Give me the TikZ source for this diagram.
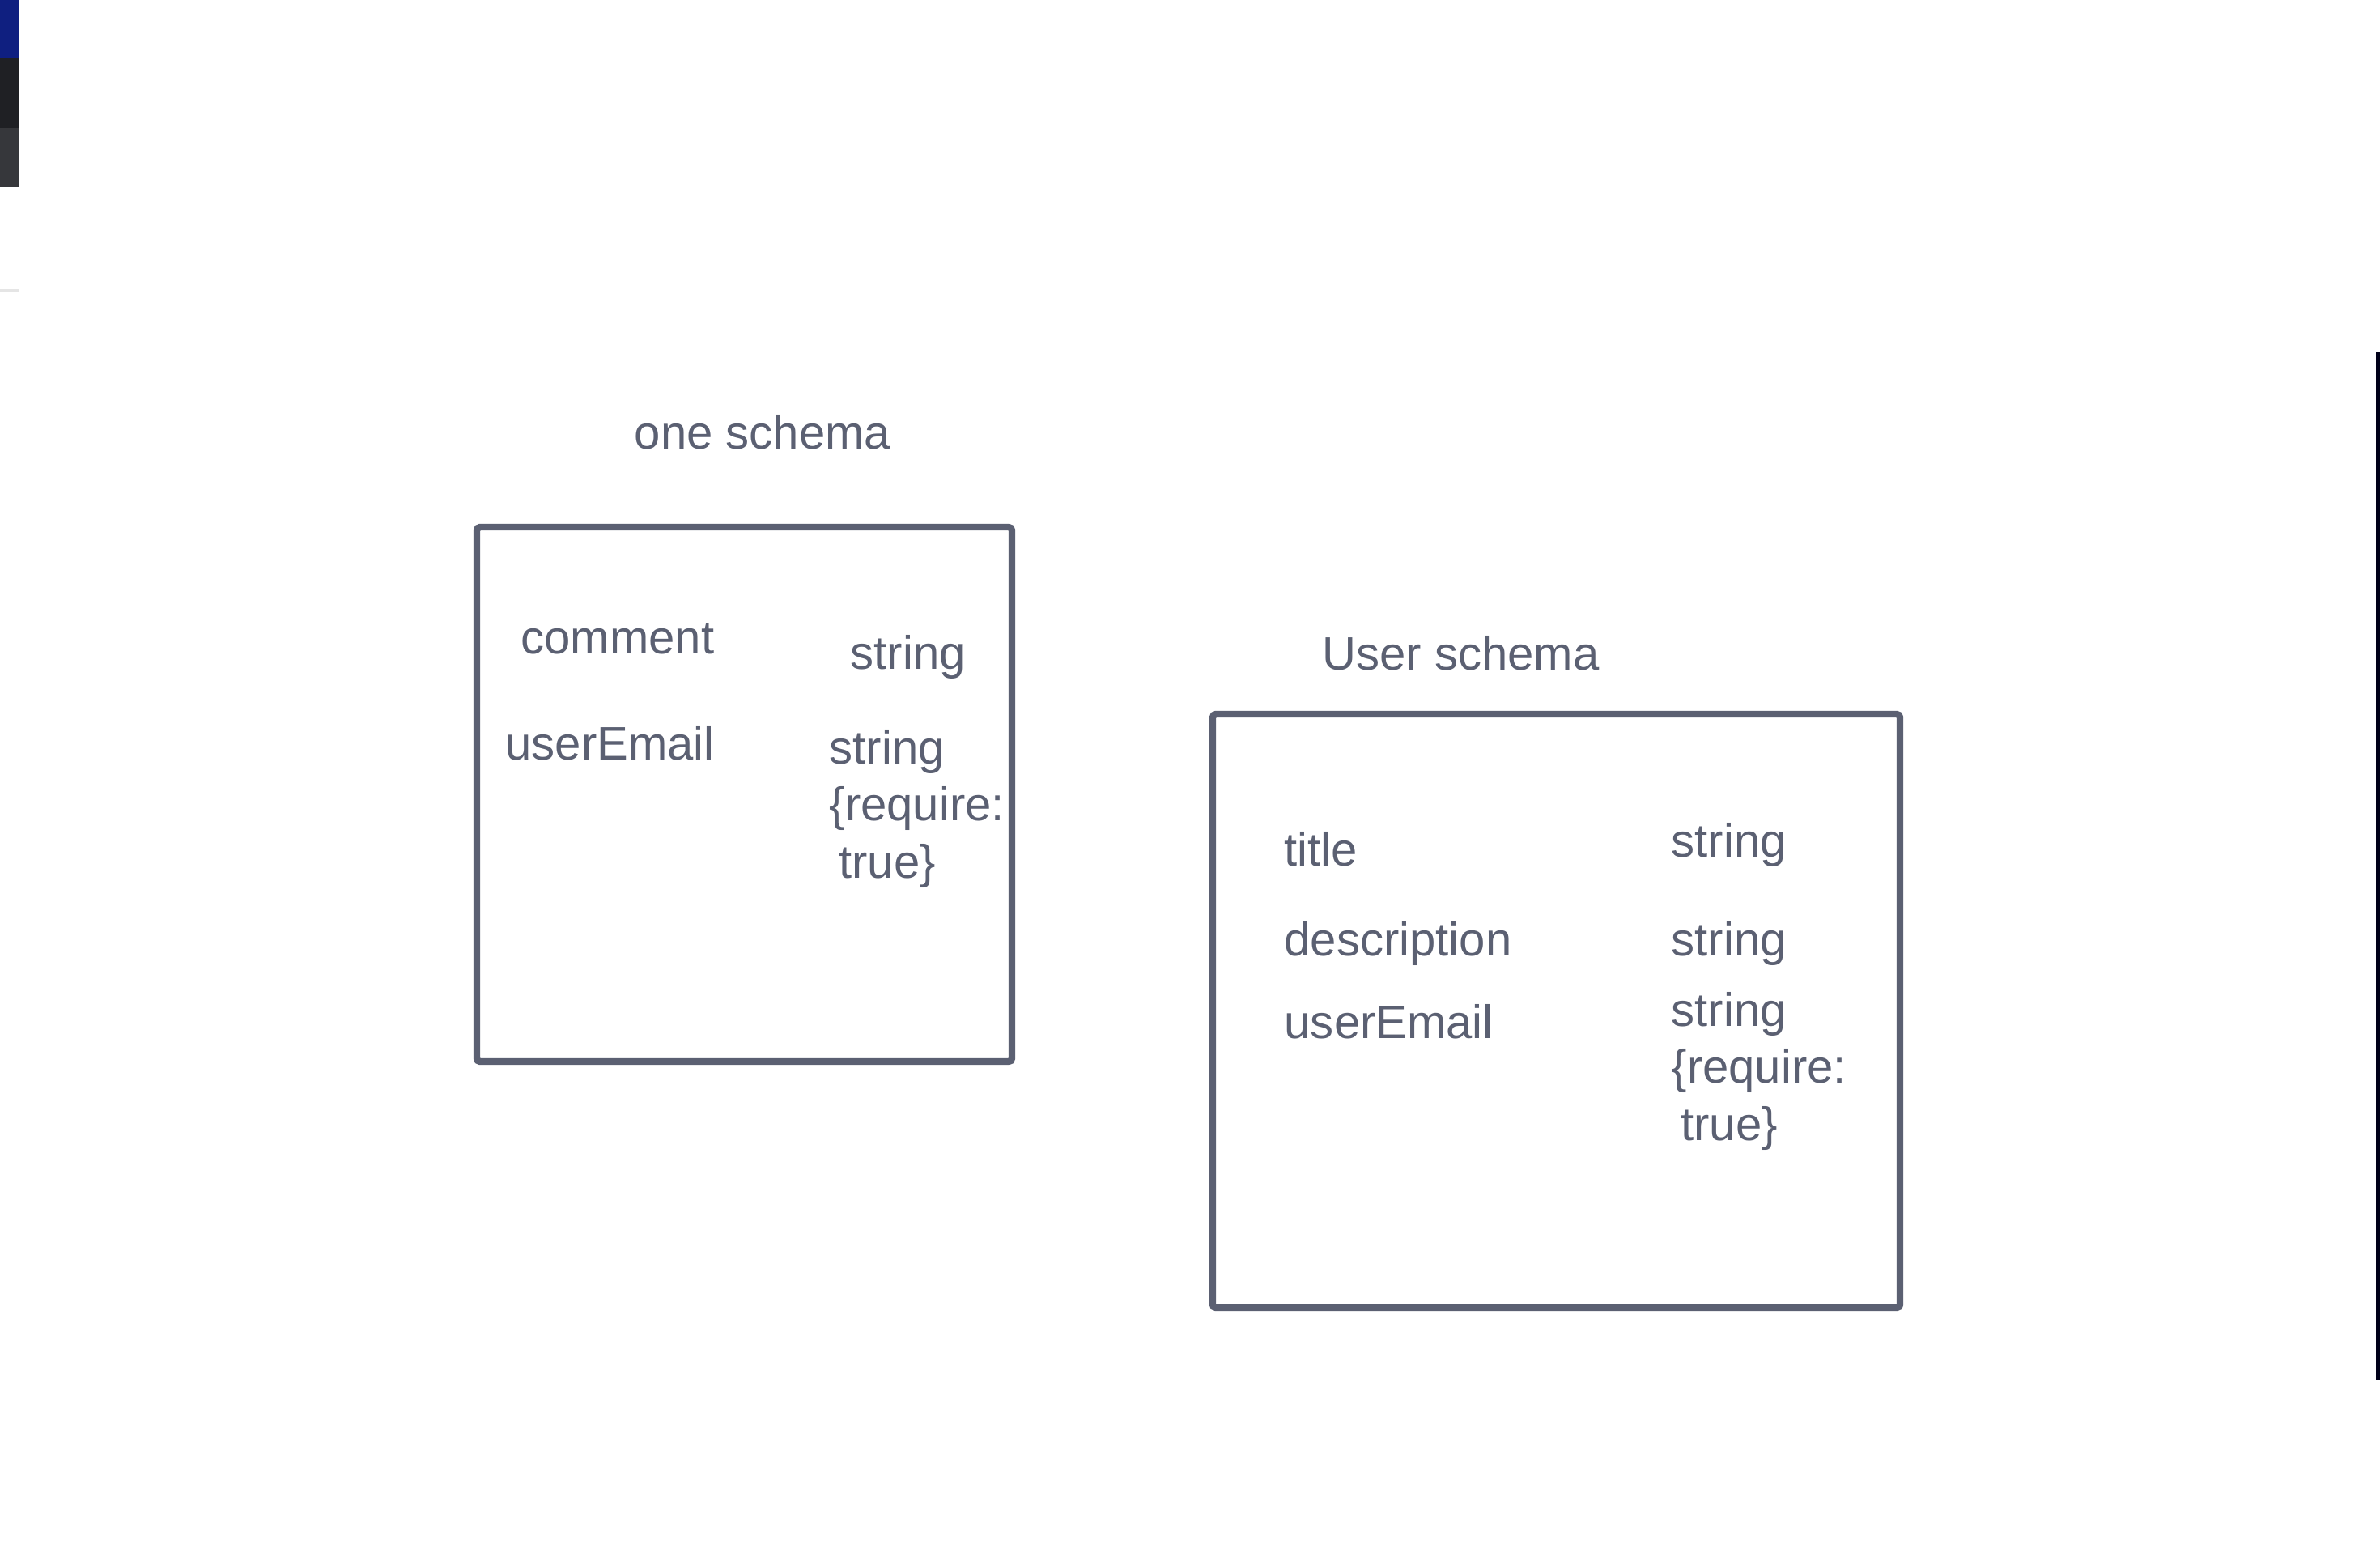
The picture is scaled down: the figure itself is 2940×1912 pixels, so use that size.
\documentclass[tikz,border=0pt]{standalone}
\usepackage{fontspec}
\setmainfont{Liberation Sans}
\definecolor{ink}{HTML}{5B6072}
\definecolor{barblue}{HTML}{0F1F80}
\definecolor{bardark}{HTML}{1F2024}
\definecolor{bargray}{HTML}{36373B}
\begin{document}
\begin{tikzpicture}[x=0.01cm, y=-0.01cm,
    txt/.style={text=ink, inner sep=0pt, align=left, font=\fontsize{16.5}{20}\selectfont},
    caja/.style={draw=ink, line width=0.84mm, rounded corners=0.4mm}] %Esquemas
    \useasboundingbox (0,0) rectangle (2940,1912);

    % restos de la captura
    \fill[barblue] (0,0) rectangle (23,72);
    \fill[bardark] (0,72) rectangle (23,158);
    \fill[bargray] (0,158) rectangle (23,231);
    \fill[black!10] (0,357) rectangle (23,360);
    \fill[black!90!blue] (2935,435) rectangle (2940,1704);

    \coordinate (A1) at (589,651);
    \coordinate (B1) at (1250,1311);
    \coordinate (A2) at (1498,882);
    \coordinate (B2) at (2347,1615);

    \draw[caja] (A1) rectangle (B1);
    \draw[caja] (A2) rectangle (B2);

    \node[txt, anchor=base] (one) at (942,554) {one schema};
    \node[txt, anchor=base west] (c1) at (643,807) {comment};
    \node[txt, anchor=base west] (t1) at (1050,826) {string};
    \node[txt, anchor=base west] (c2) at (624,938) {userEmail};
    % el ancla base es la de la ultima linea
    \node[txt, anchor=base west] (t2) at (1024,1084) {string\\{\{}require:\\\hspace{0.2em}true\}};

    \node[txt, anchor=base west] (user) at (1633,827) {User schema};
    \node[txt, anchor=base west] (d1) at (1586,1069) {title};
    \node[txt, anchor=base west] (s1) at (2064,1058) {string};
    \node[txt, anchor=base west] (d2) at (1586,1180) {description};
    \node[txt, anchor=base west] (s2) at (2064,1180) {string};
    \node[txt, anchor=base west] (d3) at (1586,1282) {userEmail};
    \node[txt, anchor=base west] (s3) at (2064,1408) {string\\{\{}require:\\\hspace{0.2em}true\}};
\end{tikzpicture}
\end{document}
